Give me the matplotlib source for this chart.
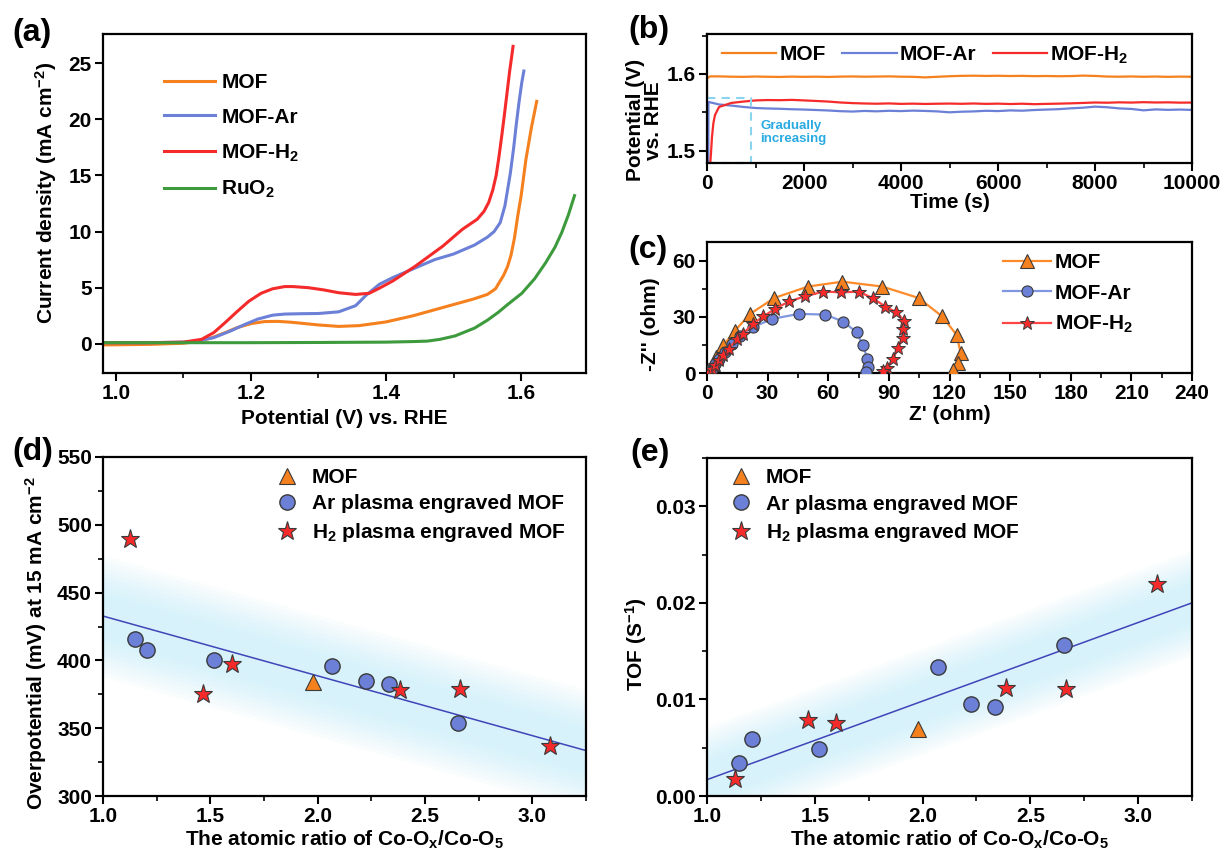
import numpy as np
import matplotlib
matplotlib.use('Agg')
import matplotlib.pyplot as plt
from matplotlib.ticker import MultipleLocator, FormatStrFormatter

plt.rcParams['font.family'] = ['Liberation Sans', 'DejaVu Sans']
plt.rcParams['font.weight'] = 'bold'
plt.rcParams['axes.labelweight'] = 'bold'
plt.rcParams['mathtext.fontset'] = 'custom'
plt.rcParams['mathtext.rm'] = 'Liberation Sans:bold'
plt.rcParams['mathtext.it'] = 'Liberation Sans:bold'
plt.rcParams['mathtext.bf'] = 'Liberation Sans:bold'
plt.rcParams['mathtext.default'] = 'bf'

# ---------------- colours ----------------
C_MOF = '#F5801E'
C_AR = '#6B80D6'
C_H2 = '#F52A2A'
C_RU = '#3D9A3D'

# ---------------- (a) LSV ----------------
a_mof_x = [0.98, 1.05, 1.10, 1.12, 1.14, 1.16, 1.18, 1.20, 1.22, 1.24, 1.26, 1.28, 1.30, 1.33,
           1.36, 1.40, 1.44, 1.47, 1.50, 1.53, 1.55, 1.562, 1.568, 1.574, 1.58, 1.585, 1.59,
           1.595, 1.60, 1.607, 1.615, 1.623]
a_mof_y = [-0.1, -0.05, 0.05, 0.2, 0.5, 0.95, 1.45, 1.8, 1.98, 2.0, 1.92, 1.8, 1.68, 1.55,
           1.62, 1.95, 2.5, 3.0, 3.5, 4.0, 4.4, 4.9, 5.5, 6.1, 6.9, 7.9, 9.4,
           11.4, 13.2, 16.4, 19.2, 21.6]
a_ar_x = [0.98, 1.05, 1.10, 1.12, 1.145, 1.17, 1.19, 1.21, 1.232, 1.25, 1.273, 1.30, 1.33, 1.355,
          1.37, 1.39, 1.41, 1.437, 1.472, 1.50, 1.531, 1.55, 1.56, 1.569, 1.576, 1.584, 1.589,
          1.5925, 1.597, 1.601, 1.604]
a_ar_y = [0.1, 0.1, 0.15, 0.25, 0.55, 1.15, 1.7, 2.2, 2.55, 2.65, 2.68, 2.7, 2.85, 3.4,
          4.3, 5.3, 5.9, 6.6, 7.5, 8.0, 8.8, 9.5, 10.0, 10.8, 12.3, 15.2, 17.5,
          19.4, 21.6, 23.3, 24.3]
a_h2_x = [0.98, 1.05, 1.10, 1.127, 1.145, 1.162, 1.18, 1.197, 1.215, 1.232, 1.25, 1.262, 1.285, 1.308,
          1.33, 1.355, 1.375, 1.39, 1.41, 1.443, 1.484, 1.513, 1.535, 1.545, 1.552, 1.558, 1.563,
          1.567, 1.571, 1.575, 1.579, 1.583, 1.586, 1.588]
a_h2_y = [0.1, 0.1, 0.15, 0.4, 1.0, 1.9, 2.9, 3.8, 4.5, 4.9, 5.1, 5.1, 5.0, 4.8,
          4.55, 4.4, 4.5, 4.95, 5.6, 6.9, 8.7, 10.2, 11.1, 11.8, 12.6, 13.7, 15.0,
          16.6, 18.4, 20.3, 22.3, 24.3, 25.6, 26.5]
a_ru_x = [0.98, 1.10, 1.20, 1.30, 1.40, 1.44, 1.461, 1.48, 1.502, 1.531, 1.55, 1.566, 1.58, 1.601,
          1.62, 1.636, 1.65, 1.66, 1.67, 1.679]
a_ru_y = [0.1, 0.1, 0.1, 0.12, 0.15, 0.2, 0.24, 0.4, 0.7, 1.4, 2.1, 2.8, 3.5, 4.5,
          5.8, 7.2, 8.6, 9.9, 11.5, 13.2]

# ---------------- (b) chronopotentiometry ----------------
b_t_grid = np.arange(250, 10001, 250)
b_mof_t0 = [0, 0, 60]
b_mof_v0 = [1.570, 1.594, 1.5968]
b_mof_v = [1.5968, 1.5964, 1.5962, 1.5966, 1.5963, 1.5961, 1.5965, 1.5962, 1.5964, 1.5961,
           1.5965, 1.5967, 1.5964, 1.5966, 1.5968, 1.5964, 1.5962, 1.5955, 1.5963, 1.5970,
           1.5975, 1.5977, 1.5974, 1.5976, 1.5973, 1.5975, 1.5971, 1.5973, 1.5970, 1.5972,
           1.5978, 1.5974, 1.5966, 1.5964, 1.5967, 1.5963, 1.5966, 1.5962, 1.5965, 1.5963]
b_ar_t0 = [27, 30, 100]
b_ar_v0 = [1.480, 1.5635, 1.5625]
b_ar_v = [1.5602, 1.5588, 1.5570, 1.5556, 1.5550, 1.5546, 1.5540, 1.5536, 1.5530, 1.5524,
          1.5515, 1.5510, 1.5518, 1.5513, 1.5520, 1.5516, 1.5522, 1.5518, 1.5512, 1.5500,
          1.5508, 1.5512, 1.5520, 1.5516, 1.5525, 1.5521, 1.5530, 1.5536, 1.5541, 1.5552,
          1.5560, 1.5574, 1.5566, 1.5551, 1.5544, 1.5526, 1.5538, 1.5532, 1.5536, 1.5531]
b_h2_t0 = [60, 82, 103, 131, 165, 234]
b_h2_v0 = [1.477, 1.4966, 1.518, 1.5357, 1.5465, 1.5552]
b_h2_v = [1.5570, 1.5622, 1.5640, 1.5655, 1.5660, 1.5658, 1.5662, 1.5655, 1.5648, 1.5640,
          1.5628, 1.5620, 1.5615, 1.5612, 1.5616, 1.5610, 1.5613, 1.5609, 1.5612, 1.5614,
          1.5611, 1.5615, 1.5610, 1.5613, 1.5608, 1.5612, 1.5606, 1.5610, 1.5613, 1.5617,
          1.5622, 1.5628, 1.5625, 1.5630, 1.5627, 1.5632, 1.5628, 1.5630, 1.5626, 1.5627]
b_box_t = [0, 907]
b_box_v = [1.4845, 1.569]

# ---------------- (c) Nyquist ----------------
c_mof_x = [1, 3, 4.6, 8, 13.9, 21.4, 33.3, 50, 67, 86.7, 104.7, 116.4, 123.5, 125.5, 124.3, 121.6]
c_mof_y = [1.4, 4.6, 8.5, 14.7, 22.7, 31.6, 40.1, 46.2, 48.8, 46.2, 40.1, 30.2, 20.4, 10.8, 5.3, 1.8]
c_ar_x = [1, 2.4, 4, 6, 8.9, 12.5, 16.3, 22.8, 32.1, 45.6, 58.5, 67.4, 74, 77.3, 79.3, 79.9, 78.9]
c_ar_y = [0.9, 2.3, 4.6, 7.6, 11.2, 15.5, 20, 24.5, 28.9, 31.6, 31.2, 27.5, 21.8, 14.7, 7.6, 3.2, 0.4]
c_h2_x = [1, 2.4, 4, 6, 8, 11, 14.9, 17.8, 22.8, 27.8, 33.7, 40.7, 48.6, 57.5, 66.4, 75, 81.9,
          88.2, 93.6, 97.6, 97.2, 96.8, 94.4, 92.2, 89.2, 87.3]
c_h2_y = [0.5, 2.3, 4.1, 6.7, 9.4, 13, 18.3, 21, 26.3, 30.2, 34.3, 38.3, 41, 43.5, 43.1, 43.5, 40.1,
          35.5, 32.5, 28, 23.6, 18.8, 13.5, 7.6, 2.8, 0.9]

# ---------------- (d) overpotential vs ratio ----------------
d_mof_x = [1.976]
d_mof_y = [384]
d_ar_x = [1.150, 1.207, 1.516, 2.066, 2.223, 2.333, 2.652]
d_ar_y = [415.5, 407.4, 400.0, 395.6, 384.8, 382.8, 353.8]
d_h2_x = [1.128, 1.465, 1.599, 2.385, 2.661, 3.082]
d_h2_y = [489.3, 375.0, 397.6, 377.9, 378.7, 336.9]
d_fit_x = [1.0, 3.25]
d_fit_y = [432.7, 333.5]

# ---------------- (e) TOF vs ratio ----------------
e_mof_x = [1.979]
e_mof_y = [0.00697]
e_ar_x = [1.150, 1.211, 1.521, 2.070, 2.227, 2.338, 2.657]
e_ar_y = [0.00342, 0.00587, 0.00487, 0.01336, 0.00949, 0.00922, 0.01567]
e_h2_x = [1.129, 1.470, 1.598, 2.387, 2.665, 3.086]
e_h2_y = [0.0018, 0.00784, 0.00756, 0.01118, 0.01111, 0.02192]
e_fit_x = [1.0, 3.25]
e_fit_y = [0.00169, 0.0200]

# ======================================================================
W, H = 1226, 856
fig = plt.figure(figsize=(W / 100, H / 100), dpi=100)


def px_rect(l, r, t, b):
    return [l / W, 1 - b / H, (r - l) / W, (b - t) / H]


def style(ax):
    for s in ax.spines.values():
        s.set_linewidth(1.6)
    ax.tick_params(which='both', direction='out', top=False, right=False, labelsize=15, pad=2)
    ax.tick_params(which='major', length=6, width=1.5)
    ax.tick_params(which='minor', length=3.5, width=1.2)


FS = 15

# ---------- (a) ----------
ax = fig.add_axes(px_rect(103, 586, 34, 373))
style(ax)
ax.plot(a_mof_x, a_mof_y, color=C_MOF, lw=2.2, label='MOF')
ax.plot(a_ar_x, a_ar_y, color=C_AR, lw=2.2, label='MOF-Ar')
ax.plot(a_h2_x, a_h2_y, color=C_H2, lw=2.2, label='MOF-H$_2$')
ax.plot(a_ru_x, a_ru_y, color=C_RU, lw=2.2, label='RuO$_2$')
ax.set_xlim(0.981, 1.696)
ax.set_ylim(-2.6, 27.6)
ax.xaxis.set_major_locator(MultipleLocator(0.2))
ax.xaxis.set_minor_locator(MultipleLocator(0.1))
ax.xaxis.set_major_formatter(FormatStrFormatter('%.1f'))
ax.yaxis.set_major_locator(MultipleLocator(5))
ax.set_xlabel('Potential (V) vs. RHE', fontsize=FS, labelpad=4)
ax.set_ylabel('Current density (mA cm$^{-2}$)', fontsize=FS, labelpad=6)
ax.yaxis.set_label_coords(-0.092, 0.53)
ax.legend(loc='upper left', bbox_to_anchor=(0.126, 0.885), frameon=False, handlelength=2.45,
          handletextpad=0.3, labelspacing=0.75, borderaxespad=0, borderpad=0, fontsize=FS)

# ---------- (b) ----------
ax = fig.add_axes(px_rect(707, 1192, 34, 163))
style(ax)
ax.plot(list(b_mof_t0) + list(b_t_grid), b_mof_v0 + b_mof_v, color=C_MOF, lw=1.6, label='MOF')
ax.plot(list(b_ar_t0) + list(b_t_grid), b_ar_v0 + b_ar_v, color=C_AR, lw=1.6, label='MOF-Ar')
ax.plot(list(b_h2_t0) + list(b_t_grid), b_h2_v0 + b_h2_v, color=C_H2, lw=1.6, label='MOF-H$_2$')
ax.plot([b_box_t[0], b_box_t[1], b_box_t[1]], [b_box_v[1], b_box_v[1], b_box_v[0]],
        ls='--', color='#8AD4F0', lw=1.5, dashes=(4, 3))
ax.plot([b_box_t[0], b_box_t[1]], [b_box_v[0], b_box_v[0]], ls='--', color='#3C9CC8', lw=1.5,
        dashes=(4, 3), clip_on=False)
ax.text(1093, 1.524, 'Gradually\nincreasing', color='#29ABE2', fontsize=9.5, fontweight='bold',
        ha='left', va='center', linespacing=1.15)
ax.set_xlim(0, 10000)
ax.set_ylim(1.484, 1.652)
ax.xaxis.set_major_locator(MultipleLocator(2000))
ax.xaxis.set_minor_locator(MultipleLocator(1000))
ax.yaxis.set_major_locator(MultipleLocator(0.1))
ax.yaxis.set_minor_locator(MultipleLocator(0.05))
ax.yaxis.set_major_formatter(FormatStrFormatter('%.1f'))
ax.set_xlabel('Time (s)', fontsize=FS, labelpad=0)
ax.set_ylabel('Potential (V)\nvs. RHE', fontsize=FS, labelpad=3, linespacing=0.95)
ax.yaxis.set_label_coords(-0.09, 0.33)
ax.legend(loc='center left', bbox_to_anchor=(0.031, 0.837), ncol=3, frameon=False, handlelength=2.6,
          handletextpad=0.15, columnspacing=0.8, borderaxespad=0, borderpad=0, fontsize=FS)

# ---------- (c) ----------
ax = fig.add_axes(px_rect(707, 1192, 242, 373))
style(ax)
ax.plot(c_mof_x, c_mof_y, color='#FF8A2A', lw=1.6, marker='^', ms=9.5, mfc=C_MOF, mec='#3a3a3a',
        mew=0.8, label='MOF', zorder=3)
ax.plot(c_ar_x, c_ar_y, color='#8096DE', lw=1.6, marker='o', ms=8, mfc=C_AR, mec='#3a3a3a',
        mew=0.8, label='MOF-Ar', zorder=3)
ax.plot(c_h2_x, c_h2_y, color='#FF4545', lw=1.6, marker='*', ms=10.5, mfc=C_H2, mec='#3a3a3a',
        mew=0.7, label='MOF-H$_2$', zorder=4)
ax.set_xlim(0, 240)
ax.set_ylim(0, 70)
ax.xaxis.set_major_locator(MultipleLocator(30))
ax.xaxis.set_minor_locator(MultipleLocator(15))
ax.yaxis.set_major_locator(MultipleLocator(30))
ax.yaxis.set_minor_locator(MultipleLocator(15))
ax.set_xlabel("Z' (ohm)", fontsize=FS, labelpad=1)
ax.set_ylabel("-Z'' (ohm)", fontsize=FS, labelpad=4)
ax.yaxis.set_label_coords(-0.097, 0.37)
ax.legend(loc='upper left', bbox_to_anchor=(0.61, 0.915), frameon=False, handlelength=2.3,
          handletextpad=0.2, labelspacing=0.55, borderaxespad=0, borderpad=0, fontsize=FS)


def band(ax, x, y, w, n=10, color='#B0E8FB'):
    x = np.asarray(x, float)
    y = np.asarray(y, float)
    for k in range(n):
        f = 0.3 + 0.7 * (k + 1) / n
        ax.fill_between(x, y - w * f, y + w * f, color=color, alpha=0.06, lw=0, zorder=1)


def scatter_panel(ax, mx, my, ax_x, ax_y, hx, hy, fx, fy, w):
    band(ax, fx, fy, w)
    ax.plot(fx, fy, color='#3F45B8', lw=1.1, zorder=2)
    ax.plot(mx, my, ls='none', marker='^', ms=12, mfc=C_MOF, mec='#3a3a3a', mew=0.8,
            label='MOF', zorder=3)
    ax.plot(ax_x, ax_y, ls='none', marker='o', ms=11, mfc=C_AR, mec='#3a3a3a', mew=1.0,
            label='Ar plasma engraved MOF', zorder=3)
    ax.plot(hx, hy, ls='none', marker='*', ms=14, mfc=C_H2, mec='#3a3a3a', mew=0.8,
            label='H$_2$ plasma engraved MOF', zorder=4)
    ax.set_xlim(1.0, 3.25)
    ax.xaxis.set_major_locator(MultipleLocator(0.5))
    ax.xaxis.set_minor_locator(MultipleLocator(0.25))
    ax.xaxis.set_major_formatter(FormatStrFormatter('%.1f'))
    ax.set_xlabel('The atomic ratio of Co-O$_x$/Co-O$_5$', fontsize=FS, labelpad=2)


# ---------- (d) ----------
ax = fig.add_axes(px_rect(103, 586, 457, 796))
style(ax)
scatter_panel(ax, d_mof_x, d_mof_y, d_ar_x, d_ar_y, d_h2_x, d_h2_y, d_fit_x, d_fit_y, 45)
ax.set_ylim(300, 550)
ax.yaxis.set_major_locator(MultipleLocator(50))
ax.yaxis.set_minor_locator(MultipleLocator(25))
ax.set_ylabel('Overpotential (mV) at 15 mA cm$^{-2}$', fontsize=FS, labelpad=4)
ax.yaxis.set_label_coords(-0.112, 0.45)
ax.legend(loc='upper left', bbox_to_anchor=(0.359, 0.968), frameon=False, handlelength=1.0,
          handletextpad=0.7, labelspacing=0.36, borderaxespad=0, borderpad=0, fontsize=FS)

# ---------- (e) ----------
ax = fig.add_axes(px_rect(707, 1192, 458, 796))
style(ax)
scatter_panel(ax, e_mof_x, e_mof_y, e_ar_x, e_ar_y, e_h2_x, e_h2_y, e_fit_x, e_fit_y, 0.0055)
ax.set_ylim(0, 0.035)
ax.yaxis.set_major_locator(MultipleLocator(0.01))
ax.yaxis.set_minor_locator(MultipleLocator(0.005))
ax.yaxis.set_major_formatter(FormatStrFormatter('%.2f'))
ax.set_ylabel('TOF (S$^{-1}$)', fontsize=FS, labelpad=4)
ax.yaxis.set_label_coords(-0.12, 0.45)
ax.legend(loc='upper left', bbox_to_anchor=(0.0485, 0.97), frameon=False, handlelength=1.0,
          handletextpad=0.7, labelspacing=0.36, borderaxespad=0, borderpad=0, fontsize=FS)

# ---------- panel labels ----------
for lab, x, y in [('(a)', 12, 33), ('(b)', 628, 30), ('(c)', 628, 250), ('(d)', 12, 452), ('(e)', 630, 453)]:
    fig.text(x / W, 1 - y / H, lab, fontsize=23, fontweight='bold', ha='left', va='center')

fig.savefig('out.png', dpi=100)
